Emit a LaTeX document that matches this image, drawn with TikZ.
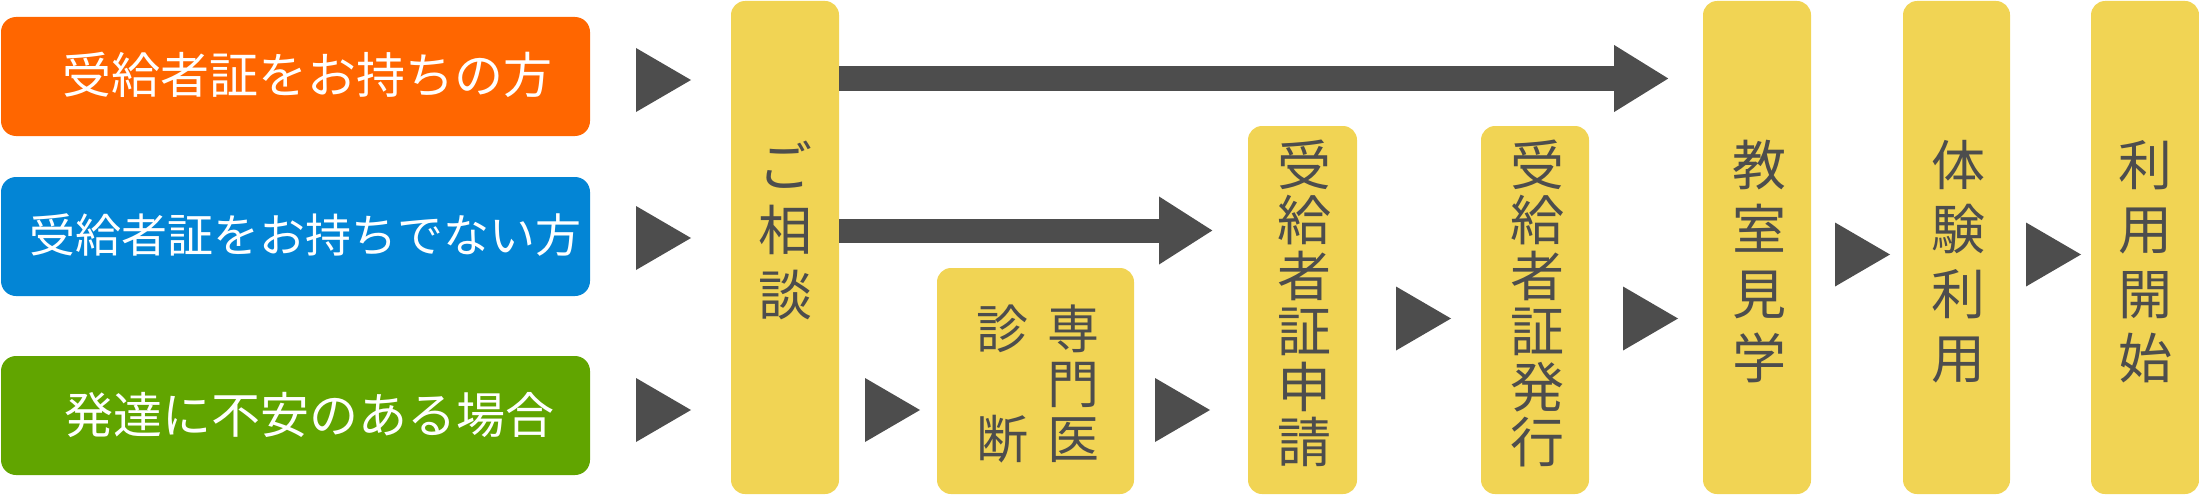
\documentclass[tikz,border=0pt]{standalone}
\usepackage{fontspec}
\setmainfont{Noto Sans CJK JP}
\usetikzlibrary{arrows.meta}
\definecolor{cOrange}{HTML}{FF6600}
\definecolor{cBlue}{HTML}{0385D5}
\definecolor{cGreen}{HTML}{61A500}
\definecolor{cYellow}{HTML}{F1D454}
\definecolor{cDark}{HTML}{4D4D4D}
\newcommand{\playtri}[2]{\fill[cDark] ({#1-55},{#2-32}) -- (#1,#2) -- ({#1-55},{#2+32}) -- cycle;}
\begin{document}
\begin{tikzpicture}[x=1pt,y=-1pt,
  hbox/.style={rounded corners=15pt, inner sep=0pt, outer sep=0pt, minimum width=589pt, minimum height=119pt},
  ybox/.style={fill=cYellow, rounded corners=14pt, inner sep=0pt, outer sep=0pt, minimum width=108pt},
  htext/.style={text=white, inner sep=0pt, font=\fontsize{49}{55}\selectfont},
  vtext/.style={text=cDark, inner sep=0pt, align=center, font=\fontsize{54}{64.5}\selectfont},
  vtextb/.style={text=cDark, inner sep=0pt, align=center, font=\fontsize{54}{55.5}\selectfont},
  vtextc/.style={text=cDark, inner sep=0pt, align=center, font=\fontsize{52}{55}\selectfont},
  conn/.style={draw=cDark, line width=24pt}
]
\useasboundingbox (0,0) rectangle (2199,495);
% left boxes
\node[hbox, fill=cOrange] (orange) at (295.5,76.5) {};
\node[hbox, fill=cBlue] (blue) at (295.5,236.5) {};
\node[hbox, fill=cGreen] (green) at (295.5,415.5) {};
\node[htext] (torange) at (307,74.5) {受給者証をお持ちの方};
\node[htext, font=\fontsize{46}{55}\selectfont] (tblue) at (305,235) {受給者証をお持ちでない方};
\node[htext] (tgreen) at (309,414.5) {発達に不安のある場合};
% yellow boxes
\node[ybox, minimum height=493pt] (soudan) at (785,247.5) {};
\node[ybox, minimum width=197pt, minimum height=226pt] (senmon) at (1035.5,381) {};
\node[ybox, minimum width=109pt, minimum height=368pt] (shinsei) at (1302.5,310) {};
\node[ybox, minimum height=368pt] (hakko) at (1535,310) {};
\node[ybox, minimum height=493pt] (kengaku) at (1757,247.5) {};
\node[ybox, minimum width=107pt, minimum height=493pt] (taiken) at (1956.5,247.5) {};
\node[ybox, minimum height=493pt] (riyou) at (2145,247.5) {};
% texts
\node[vtext] (tsoudan) at (785,230) {ご\\相\\談};
\node[vtextc] (tsenmonR) at (1073,383.5) {専\\門\\医};
\node[vtextc] (tsenmonL) at (1002,383.5) {診\\\phantom{診}\\断};
\node[vtextb] (tshinsei) at (1304,303.5) {受\\給\\者\\証\\申\\請};
\node[vtextb] (thakko) at (1537,303.5) {受\\給\\者\\証\\発\\行};
\node[vtext] (tkengaku) at (1759,261.5) {教\\室\\見\\学};
\node[vtext] (ttaiken) at (1958,261.5) {体\\験\\利\\用};
\node[vtext] (triyou) at (2145,261.5) {利\\用\\開\\始};
% block arrows
\coordinate (r1) at (0,78.5);
\coordinate (r2) at (0,230.5);
\draw[conn, -{Triangle[length=55pt,width=63pt]}] (soudan.east |- r1) -- ([xshift=-34pt]kengaku.west |- r1);
\draw[conn, -{Triangle[length=54pt,width=64pt]}] (soudan.east |- r2) -- ([xshift=-35pt]shinsei.west |- r2);
% triangle marks
\playtri{691}{80}
\playtri{691}{238}
\playtri{691}{410}
\playtri{920}{410}
\playtri{1210}{410}
\playtri{1451}{318.5}
\playtri{1678}{318.5}
\playtri{1890}{254.5}
\playtri{2081}{254.5}
\end{tikzpicture}
\end{document}
